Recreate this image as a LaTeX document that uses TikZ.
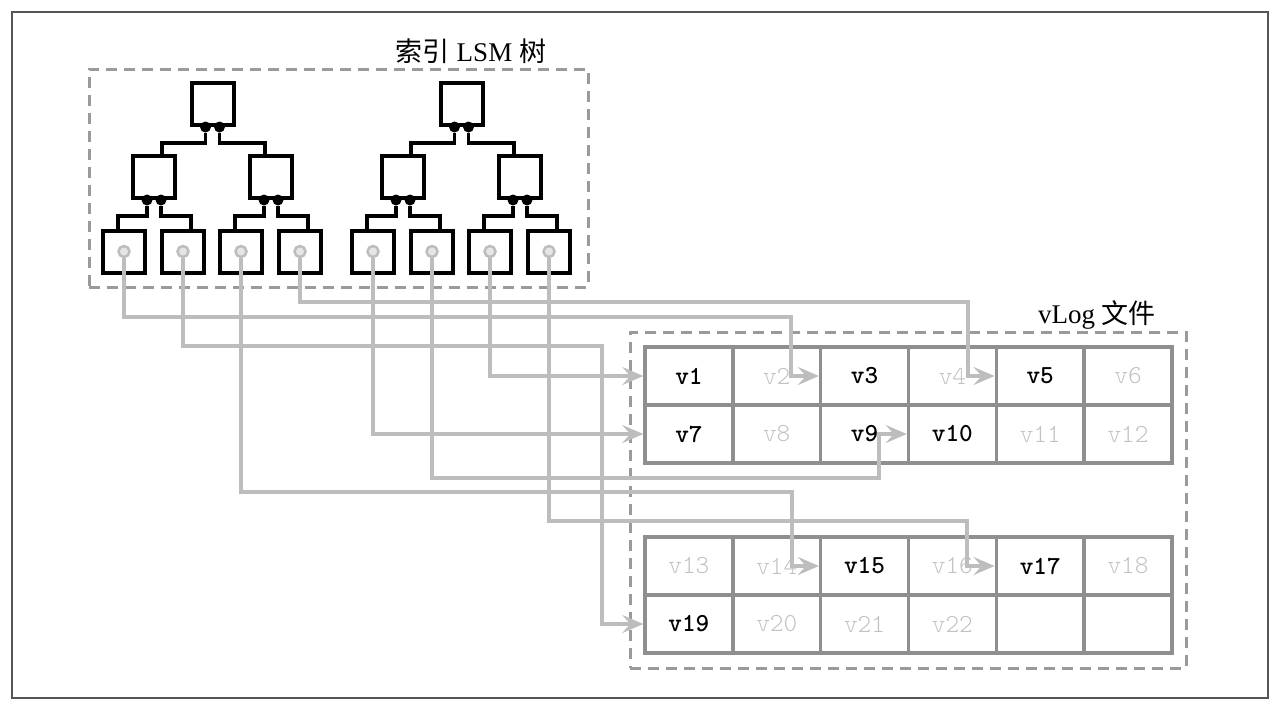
\documentclass[tikz,border=0pt]{standalone}
\usepackage{fontspec}
\setmainfont{Liberation Serif}
\newfontfamily\cjk{Noto Sans CJK SC}
\usetikzlibrary{arrows.meta, positioning}

\definecolor{linkgray}{HTML}{BDBDBD}
\definecolor{gridgray}{HTML}{8F8F8F}
\definecolor{dashgray}{HTML}{9A9A9A}
\definecolor{missgray}{HTML}{C2C2C2}
\definecolor{framegray}{HTML}{555555}

\tikzset{
  treebox/.style={draw, fill=white, line width=4pt, minimum size=42pt, inner sep=0pt},
  knob/.style={circle, fill=black, minimum size=11pt, inner sep=0pt},
  ptr/.style={circle, draw=linkgray, fill=gray!20, line width=2.5pt, minimum size=11pt, inner sep=0pt},
  branch/.style={line width=3.2pt},
  group/.style={draw=dashgray, line width=3pt, dash pattern=on 11pt off 7pt},
  cell/.style={draw=gridgray, line width=3.5pt, minimum width=87.8pt, minimum height=58pt, inner sep=0pt},
  hit/.style={cell, text=black, font=\fontsize{26}{30}\selectfont\ttfamily\bfseries},
  miss/.style={cell, text=missgray, font=\fontsize{26}{30}\selectfont\ttfamily\fontseries{l}\selectfont},
  link/.style={draw=linkgray, line width=3.5pt, -{Stealth[length=21pt, width=18pt, inset=8pt]}},
  title/.style={font=\fontsize{27}{31}\selectfont}
}

\begin{document}
\begin{tikzpicture}[x=1pt, y=-1pt]
    \useasboundingbox (0,0) rectangle (1279,710);
    \draw[framegray, line width=2.2pt] (12,12) rectangle (1268,698);

    \node[group, minimum width=499pt, minimum height=218pt] (lsm) at (338.5,178) {};
    \node[group, minimum width=556pt, minimum height=336pt] (vlog) at (908,500) {};
    \node[title] (lsmtitle) at (471,51) {{\cjk 索引} LSM {\cjk 树}};
    \node[title] (vlogtitle) at (1097,315) {vLog {\cjk 文件}};

    \foreach \kind/\lab [count=\i from 0] in {hit/v1, miss/v2, hit/v3, miss/v4, hit/v5, miss/v6,
        hit/v7, miss/v8, hit/v9, hit/v10, miss/v11, miss/v12,
        miss/v13, miss/v14, hit/v15, miss/v16, hit/v17, miss/v18,
        hit/v19, miss/v20, miss/v21, miss/v22, miss/{}, miss/{}} {
        \pgfmathtruncatemacro\r{int(\i/6)}
        \pgfmathtruncatemacro\cl{mod(\i,6)}
        \pgfmathtruncatemacro\n{\i+1}
        \pgfmathsetmacro\xx{688.9+87.83*\cl}
        \pgfmathsetmacro\yy{376+58*\r+74*(\r>1)}
        \node[\kind] (c\n) at (\xx,\yy) {\lab};
    }

    \foreach \dx [count=\t] in {0,249} {
        \node[treebox] (root\t) at (212.5+\dx,104) {};
        \node[treebox] (lc\t) at (154+\dx,177) {};
        \node[treebox] (rc\t) at (271+\dx,177) {};
        \foreach \lx [count=\j] in {124,183,241,300} {
            \pgfmathtruncatemacro\k{4*\t-4+\j}
            \node[treebox] (lf\k) at (\lx+\dx,251.5) {};
            \node[ptr] (p\k) at (lf\k.center) {};
        }
        \foreach \nd in {root,lc,rc} {
            \node[knob] (\nd\t-l) at ([xshift=-7pt]\nd\t.south) {};
            \node[knob] (\nd\t-r) at ([xshift=7pt]\nd\t.south) {};
        }
        \pgfmathtruncatemacro\ka{4*\t-3}
        \pgfmathtruncatemacro\kb{4*\t-2}
        \pgfmathtruncatemacro\kc{4*\t-1}
        \pgfmathtruncatemacro\kd{4*\t}
        \draw[branch] (root\t-l) -- ++(0,16) -| ([xshift=8pt]lc\t.north);
        \draw[branch] (root\t-r) -- ++(0,16) -| ([xshift=-6pt]rc\t.north);
        \draw[branch] (lc\t-l) -- ++(0,16) -| ([xshift=-6pt]lf\ka.north);
        \draw[branch] (lc\t-r) -- ++(0,16) -| ([xshift=8pt]lf\kb.north);
        \draw[branch] (rc\t-l) -- ++(0,16) -| ([xshift=-6pt]lf\kc.north);
        \draw[branch] (rc\t-r) -- ++(0,16) -| ([xshift=8pt]lf\kd.north);
    }

    \draw[link] (p1.south) |- (791,317) |- (c3.west);
    \draw[link] (p2.south) |- (602,346) |- (c19.west);
    \draw[link] (p3.south) |- (792,492) |- (c15.west);
    \draw[link] (p4.south) |- (968,302) |- (c5.west);
    \draw[link] (p5.south) |- (c7.west);
    \draw[link] (p6.south) |- (879,478) |- (c10.west);
    \draw[link] (p7.south) |- (c1.west);
    \draw[link] (p8.south) |- (967,521) |- (c17.west);
\end{tikzpicture}
\end{document}
